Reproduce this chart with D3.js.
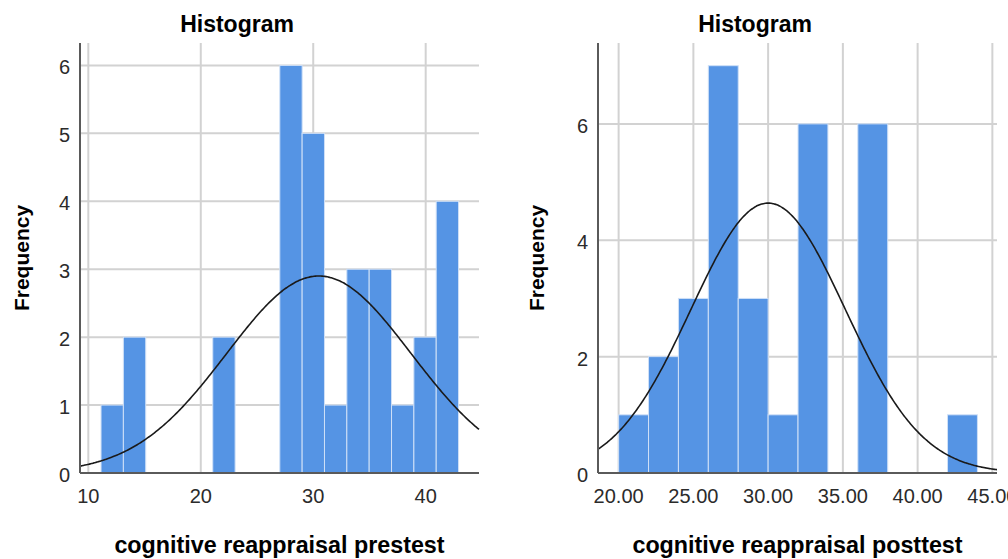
<!DOCTYPE html>
<html>
<head>
<meta charset="utf-8">
<script src="https://cdn.jsdelivr.net/npm/d3@7"></script>
<style>
  html, body { margin: 0; padding: 0; background: #fff; }
  svg { display: block; }
  text { font-family: "Liberation Sans", Arial, sans-serif; }
</style>
</head>
<body>
<svg id="chart" width="1008" height="559"></svg>
<script>
// ---- data ----
const chartTitle = "Histogram";
const yTitle = "Frequency";

const preTitle = "cognitive reappraisal prestest";
const preBinStart = 11.13;
const preBinWidth = 1.987;
const preCounts = [1, 2, 0, 0, 0, 2, 0, 0, 6, 5, 1, 3, 3, 1, 2, 4];
const preXTicks = [10, 20, 30, 40];
const preYTicks = [0, 1, 2, 3, 4, 5, 6];
const preMean = 30.5;
const preSD = 8.2;

const postTitle = "cognitive reappraisal posttest";
const postBinStart = 20;
const postBinWidth = 2;
const postCounts = [1, 2, 3, 7, 3, 1, 6, 0, 6, 0, 0, 1];
const postXTicks = [20, 25, 30, 35, 40, 45];
const postYTicks = [0, 2, 4, 6];
const postMean = 30.0;
const postSD = 5.16;

// ---- drawing ----
const svg = d3.select("#chart");

function panel(cfg) {
  const g = svg.append("g");
  const x = d3.scaleLinear().domain(cfg.xDomain).range([cfg.left, cfg.right]);
  const y = d3.scaleLinear().domain(cfg.yDomain).range([cfg.bottom, cfg.top]);

  // grid lines
  g.append("g").selectAll("line.v").data(cfg.xTicks).join("line")
    .attr("x1", d => x(d)).attr("x2", d => x(d))
    .attr("y1", cfg.top).attr("y2", cfg.bottom)
    .attr("stroke", "#d2d2d2").attr("stroke-width", 2);
  g.append("g").selectAll("line.h").data(cfg.yTicks).join("line")
    .attr("x1", cfg.left).attr("x2", cfg.right)
    .attr("y1", d => y(d)).attr("y2", d => y(d))
    .attr("stroke", "#d2d2d2").attr("stroke-width", 2);

  // bars
  const bins = cfg.counts.map((c, i) => ({
    x0: cfg.binStart + i * cfg.binWidth,
    x1: cfg.binStart + (i + 1) * cfg.binWidth,
    c: c
  })).filter(d => d.c > 0);
  g.append("g").selectAll("rect").data(bins).join("rect")
    .attr("x", d => x(d.x0))
    .attr("width", d => x(d.x1) - x(d.x0))
    .attr("y", d => y(d.c))
    .attr("height", d => y(0) - y(d.c))
    .attr("fill", "#5594e4")
    .attr("stroke", "#cfe0f7")
    .attr("stroke-width", 1);

  // normal curve
  const n = d3.sum(cfg.counts);
  const pts = d3.range(0, 301).map(i => {
    const v = cfg.xDomain[0] + (cfg.xDomain[1] - cfg.xDomain[0]) * i / 300;
    const z = (v - cfg.mean) / cfg.sd;
    return [v, n * cfg.binWidth * Math.exp(-0.5 * z * z) / (cfg.sd * Math.sqrt(2 * Math.PI))];
  });
  g.append("path")
    .attr("d", d3.line().x(d => x(d[0])).y(d => y(d[1])).curve(d3.curveBasis)(pts))
    .attr("fill", "none").attr("stroke", "#1a1a1a").attr("stroke-width", 1.6);

  // axis lines
  g.append("line").attr("x1", cfg.left).attr("x2", cfg.left)
    .attr("y1", cfg.top).attr("y2", cfg.bottom)
    .attr("stroke", "#5a5a5a").attr("stroke-width", 2);
  g.append("line").attr("x1", cfg.left).attr("x2", cfg.right)
    .attr("y1", cfg.bottom).attr("y2", cfg.bottom)
    .attr("stroke", "#5a5a5a").attr("stroke-width", 2);

  // tick labels
  g.append("g").selectAll("text").data(cfg.yTicks).join("text")
    .attr("x", cfg.left - 10).attr("y", d => y(d) + 9)
    .attr("text-anchor", "end")
    .attr("font-size", 20).attr("fill", "#2b2b2b")
    .text(d => d);
  g.append("g").selectAll("text").data(cfg.xTicks).join("text")
    .attr("x", d => x(d)).attr("y", cfg.bottom + 30)
    .attr("text-anchor", "middle")
    .attr("font-size", 20).attr("fill", "#2b2b2b")
    .text(d => cfg.fmt(d));

  // titles
  g.append("text").attr("x", cfg.titleX).attr("y", 32)
    .attr("text-anchor", "middle").attr("font-size", 23).attr("font-weight", "bold")
    .attr("fill", "#000").text(chartTitle);
  g.append("text")
    .attr("transform", `translate(${cfg.yTitleX},${(cfg.top + cfg.bottom) / 2}) rotate(-90)`)
    .attr("text-anchor", "middle").attr("font-size", 21).attr("font-weight", "bold")
    .attr("fill", "#000").text(yTitle);
  g.append("text").attr("x", (cfg.left + cfg.right) / 2).attr("y", 553)
    .attr("text-anchor", "middle").attr("font-size", 23.3).attr("font-weight", "bold")
    .attr("fill", "#000").text(cfg.xTitle);
}

panel({
  left: 80, right: 479, top: 43, bottom: 473,
  xDomain: [9.26, 44.74], yDomain: [0, 6.33],
  counts: preCounts, binStart: preBinStart, binWidth: preBinWidth,
  xTicks: preXTicks, yTicks: preYTicks, fmt: d3.format("d"),
  mean: preMean, sd: preSD,
  titleX: 237, yTitleX: 29, xTitle: preTitle
});

panel({
  left: 598, right: 997, top: 43, bottom: 473,
  xDomain: [18.62, 45.31], yDomain: [0, 7.39],
  counts: postCounts, binStart: postBinStart, binWidth: postBinWidth,
  xTicks: postXTicks, yTicks: postYTicks, fmt: d3.format(".2f"),
  mean: postMean, sd: postSD,
  titleX: 755, yTitleX: 544, xTitle: postTitle
});
</script>
</body>
</html>
